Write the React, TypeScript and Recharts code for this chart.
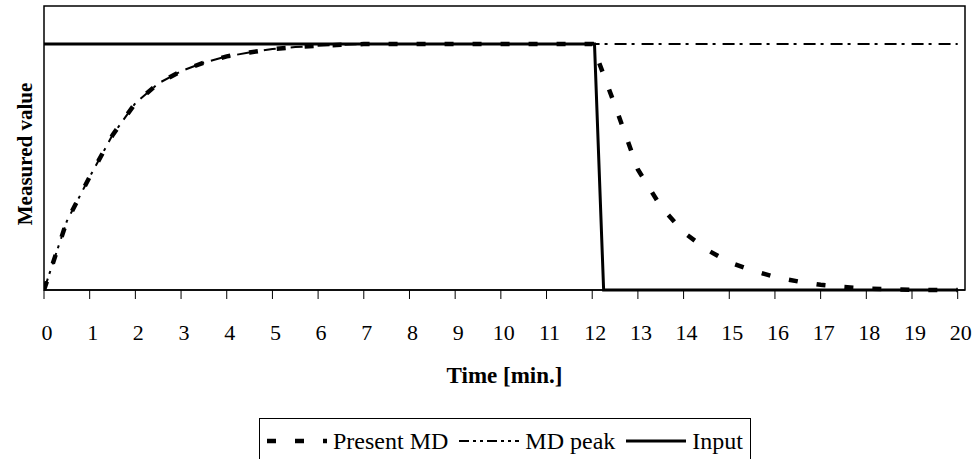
import React from "react";
import { Line, LineChart, ReferenceArea, XAxis, YAxis } from "recharts";

const serif = '"Liberation Serif", "Times New Roman", serif';

// time axis, minutes
const xTicks = [0, 1, 2, 3, 4, 5, 6, 7, 8, 9, 10, 11, 12, 13, 14, 15, 16, 17, 18, 19, 20];

// sample times for the MD series (every half minute)
const mdTime = [
  0, 0.5, 1, 1.5, 2, 2.5, 3, 3.5, 4, 4.5, 5, 5.5, 6, 6.5, 7, 7.5, 8, 8.5, 9, 9.5, 10,
  10.5, 11, 11.5, 12, 12.5, 13, 13.5, 14, 14.5, 15, 15.5, 16, 16.5, 17, 17.5, 18, 18.5, 19, 19.5, 20,
];

const presentMD = [
  0, 0.28, 0.46, 0.63, 0.76, 0.84, 0.89, 0.925, 0.95, 0.966, 0.98, 0.988, 0.993, 0.997, 1, 1, 1, 1, 1, 1, 1,
  1, 1, 1, 1, 0.75, 0.49, 0.34, 0.235, 0.165, 0.113, 0.08, 0.053, 0.035, 0.021, 0.012, 0.006, 0.003, 0.001, 0, 0,
];

const mdPeak = [
  0, 0.28, 0.46, 0.63, 0.76, 0.84, 0.89, 0.925, 0.95, 0.966, 0.98, 0.988, 0.993, 0.997, 1, 1, 1, 1, 1, 1, 1,
  1, 1, 1, 1, 1, 1, 1, 1, 1, 1, 1, 1, 1, 1, 1, 1, 1, 1, 1, 1,
];

const inputTime = [0, 12.05, 12.25, 20];
const inputValue = [1, 1, 0, 0];

const xMax = 20.16;
const yMax = 1.155;

const mdRows = mdTime.map((t, i) => ({ t, present: presentMD[i], peak: mdPeak[i] }));
const inputRows = inputTime.map((t, i) => ({ t, input: inputValue[i] }));

const presentDash = "9 19";
const peakDash = "12 5 3 7";

function YTitle(props: any) {
  const { x, y, height } = props.viewBox;
  const cx = x + 32;
  const cy = y + height / 2 + 6;
  return (
    <text
      x={cx}
      y={cy}
      transform={`rotate(-90 ${cx} ${cy})`}
      textAnchor="middle"
      fill="#000"
      fontSize={21}
      fontWeight="bold"
      fontFamily={serif}
    >
      Measured value
    </text>
  );
}

function LegendSample({ dash, width }: { dash?: string; width: number }) {
  return (
    <svg width={60} height={12} style={{ display: "block" }}>
      <line x1={0} y1={6} x2={60} y2={6} stroke="#000" strokeWidth={width} strokeDasharray={dash} />
    </svg>
  );
}

function ChartLegend() {
  const item = { display: "flex", alignItems: "center", gap: 6 } as const;
  return (
    <div
      style={{
        position: "absolute",
        left: 259,
        top: 418,
        width: 492,
        height: 46,
        boxSizing: "border-box",
        border: "1px solid #000",
        background: "#fff",
        display: "flex",
        alignItems: "center",
        justifyContent: "center",
        gap: 11,
        fontFamily: serif,
        fontSize: 24,
        color: "#000",
      }}
    >
      <div style={item}>
        <LegendSample dash="9 19" width={4.5} />
        <span>Present MD</span>
      </div>
      <div style={item}>
        <LegendSample dash="10 4 3 4 3 4" width={2} />
        <span>MD peak</span>
      </div>
      <div style={item}>
        <LegendSample width={3} />
        <span>Input</span>
      </div>
    </div>
  );
}

export default function App() {
  return (
    <div style={{ position: "relative", width: 977, height: 459, background: "#fff", overflow: "hidden" }}>
      <style>{"body{margin:0}"}</style>
      <LineChart width={977} height={459} margin={{ top: 6, right: 12, bottom: 0, left: 0 }}>
        <XAxis
          xAxisId="b"
          type="number"
          dataKey="t"
          domain={[0, xMax]}
          ticks={xTicks}
          allowDataOverflow
          height={169}
          tickSize={9}
          tickMargin={25}
          axisLine={{ stroke: "#000", strokeWidth: 1.5 }}
          tickLine={{ stroke: "#000", strokeWidth: 1 }}
          tick={{ fill: "#000", fontSize: 22, fontFamily: serif, dx: 3 }}
          label={{
            value: "Time [min.]",
            position: "insideTop",
            offset: 77,
            fill: "#000",
            fontSize: 23,
            fontWeight: "bold",
            fontFamily: serif,
          }}
        />
        <YAxis
          yAxisId="l"
          type="number"
          domain={[0, yMax]}
          width={44}
          tick={false}
          tickLine={false}
          axisLine={false}
          label={YTitle}
        />
        <ReferenceArea
          xAxisId="b"
          yAxisId="l"
          x1={0}
          x2={xMax}
          y1={0}
          y2={yMax}
          fill="none"
          stroke="#000"
          strokeWidth={1.5}
          strokeOpacity={1}
          ifOverflow="visible"
        />
        <Line
          xAxisId="b"
          yAxisId="l"
          data={mdRows}
          dataKey="present"
          type="linear"
          stroke="#000"
          strokeWidth={4.5}
          strokeDasharray={presentDash}
          dot={false}
          activeDot={false}
          isAnimationActive={false}
        />
        <Line
          xAxisId="b"
          yAxisId="l"
          data={mdRows}
          dataKey="peak"
          type="linear"
          stroke="#000"
          strokeWidth={2}
          strokeDasharray={peakDash}
          dot={false}
          activeDot={false}
          isAnimationActive={false}
        />
        <Line
          xAxisId="b"
          yAxisId="l"
          data={inputRows}
          dataKey="input"
          type="linear"
          stroke="#000"
          strokeWidth={3}
          dot={false}
          activeDot={false}
          isAnimationActive={false}
        />
      </LineChart>
      <ChartLegend />
    </div>
  );
}
